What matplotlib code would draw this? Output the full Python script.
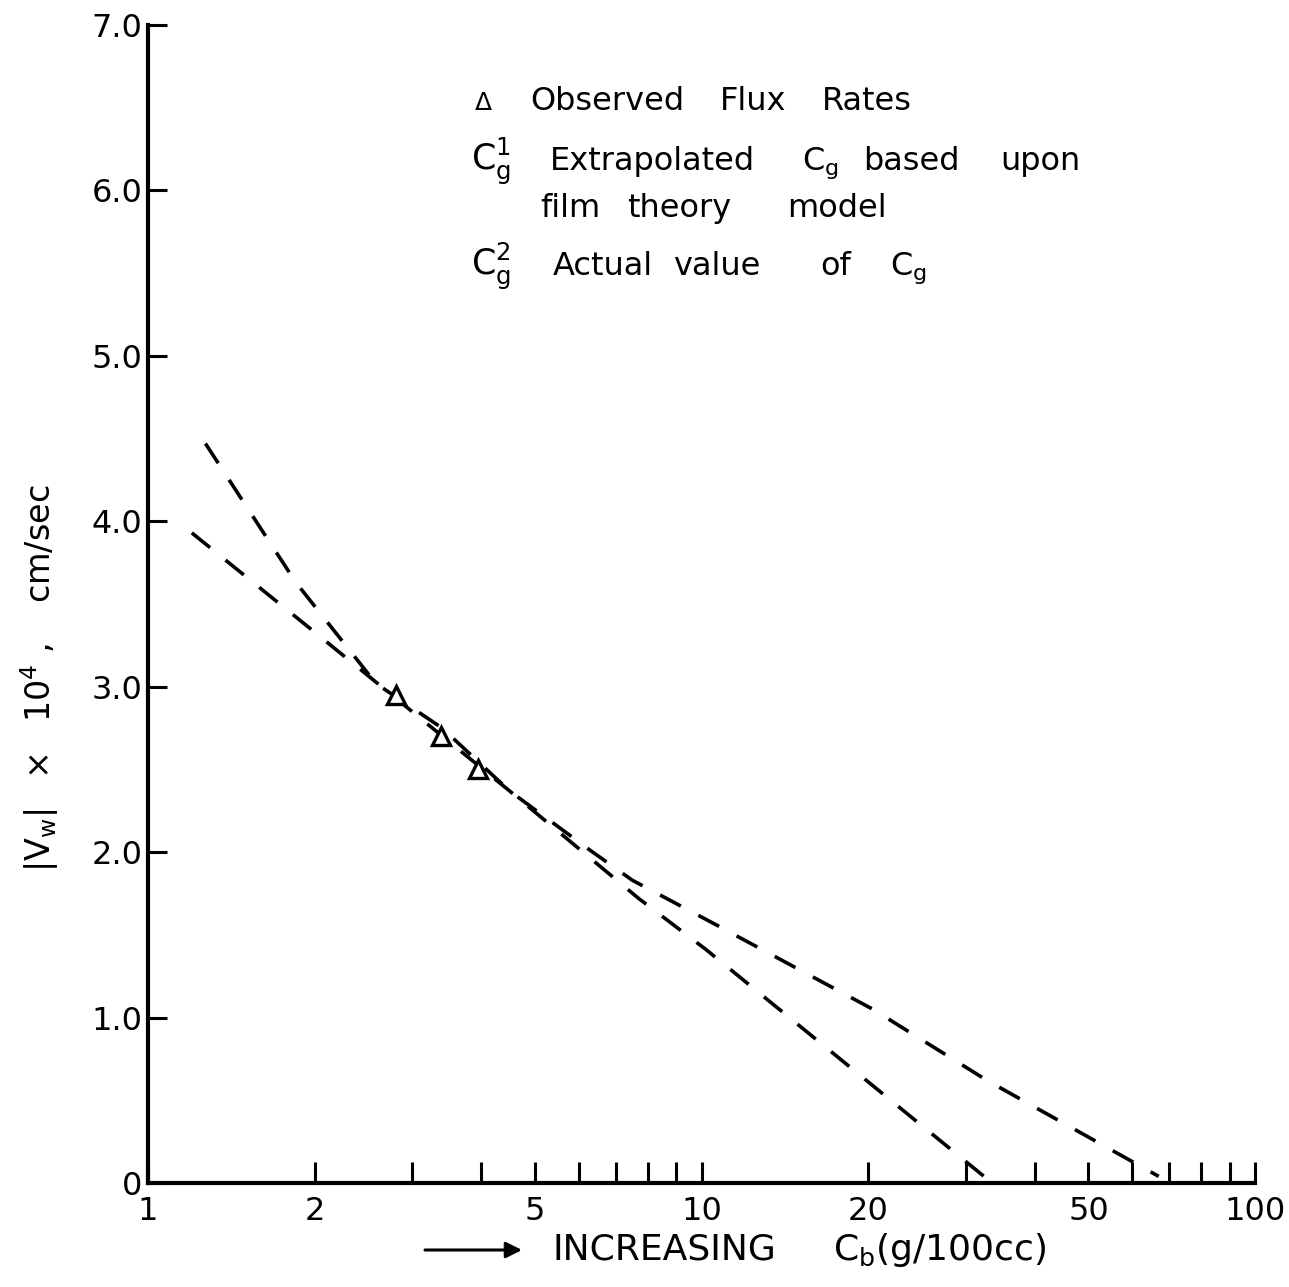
import matplotlib
matplotlib.use("Agg")
import matplotlib.pyplot as plt
from matplotlib.ticker import FixedLocator, FixedFormatter, NullFormatter

plt.rcParams["font.family"] = ["DejaVu Sans"]
plt.rcParams["mathtext.default"] = "regular"

# values
obs_x = [2.81, 3.38, 3.95]
obs_y = [2.95, 2.70, 2.50]

# film theory model (straight in log-x), extrapolates to C_g^1
film_x = [1.2, 2.0, 4.5, 7.7, 10.2, 33.5]
film_y = [3.93, 3.33, 2.37, 1.72, 1.41, 0.0]

# actual curve, reaches zero at C_g^2
actual_x = [1.27, 1.85, 2.58, 3.4, 4.5, 6.3, 7.5, 10.5, 20.4, 32.8, 67.0]
actual_y = [4.47, 3.63, 3.02, 2.75, 2.37, 2.01, 1.83, 1.57, 1.05, 0.62, 0.04]

x_major = [1, 2, 5, 10, 20, 50, 100]
x_major_labels = ["1", "2", "5", "10", "20", "50", "100"]
x_minor = [3, 4, 6, 7, 8, 9, 30, 40, 60, 70, 80, 90]
y_ticks = [0, 1, 2, 3, 4, 5, 6, 7]
y_labels = ["0", "1.0", "2.0", "3.0", "4.0", "5.0", "6.0", "7.0"]

# key text, one entry per word: (left pixel, text)
key_rows = [
    (110, [(530, "Observed"), (720, "Flux"), (822, "Rates")]),
    (170, [(550, "Extrapolated"), (802, "$C_g$"), (863, "based"), (1000, "upon")]),
    (217, [(540, "film"), (627, "theory"), (787, "model")]),
    (275, [(553, "Actual"), (673, "value"), (820, "of"), (890, "$C_g$")]),
]

W, H = 1289, 1287


def px(x, y):
    return x / W, 1 - y / H


fig = plt.figure(figsize=(W / 100, H / 100), dpi=100)
ax = fig.add_axes([148 / W, 1 - 1183 / H, (1255 - 148) / W, (1183 - 25) / H])

dash = dict(color="black", lw=2.6, dashes=(6.5, 5.5), solid_capstyle="butt")
ax.plot(film_x, film_y, **dash)
ax.plot(actual_x, actual_y, **dash)
ax.plot(obs_x, obs_y, ls="none", marker="^", ms=13, mfc="white",
        mec="black", mew=2.4, zorder=5)

ax.set_xscale("log")
ax.set_xlim(1, 100)
ax.set_ylim(0, 7)

ax.xaxis.set_major_locator(FixedLocator(x_major))
ax.xaxis.set_major_formatter(FixedFormatter(x_major_labels))
ax.xaxis.set_minor_locator(FixedLocator(x_minor))
ax.xaxis.set_minor_formatter(NullFormatter())
ax.set_yticks(y_ticks)
ax.set_yticklabels(y_labels)

for s in ("top", "right"):
    ax.spines[s].set_visible(False)
for s in ("left", "bottom"):
    ax.spines[s].set_linewidth(3)

ax.tick_params(axis="x", which="both", direction="in", length=15, width=2.2,
               labelsize=23, pad=9)
ax.tick_params(axis="y", direction="in", length=14, width=2.2,
               labelsize=23, pad=4)

# y label
fig.text(*px(40, 678), r"$|V_w|\ \ \times\ \ 10^4\ ,\ \ \ cm/sec$", fontsize=24,
         rotation=90, ha="center", va="center")

# x label with arrow
ax.annotate("", xy=px(522, 1250), xytext=px(425, 1250), xycoords="figure fraction",
            textcoords="figure fraction",
            arrowprops=dict(arrowstyle="-|>", lw=2.2, color="black",
                            mutation_scale=24, shrinkA=0, shrinkB=0))
fig.text(*px(553, 1260), "INCREASING", fontsize=26, ha="left", va="baseline")
fig.text(*px(833, 1260), r"$C_b$(g/100cc)", fontsize=26, ha="left", va="baseline")

# key
fig.text(*px(475, 110), "Δ", fontsize=18, ha="left", va="baseline")
fig.text(*px(471, 170), r"$C_g^1$", fontsize=25, ha="left", va="baseline")
fig.text(*px(471, 275), r"$C_g^2$", fontsize=25, ha="left", va="baseline")
for base_y, words in key_rows:
    for x0, word in words:
        fig.text(*px(x0, base_y), word, fontsize=23, ha="left", va="baseline")

fig.savefig("out.png", dpi=100)
